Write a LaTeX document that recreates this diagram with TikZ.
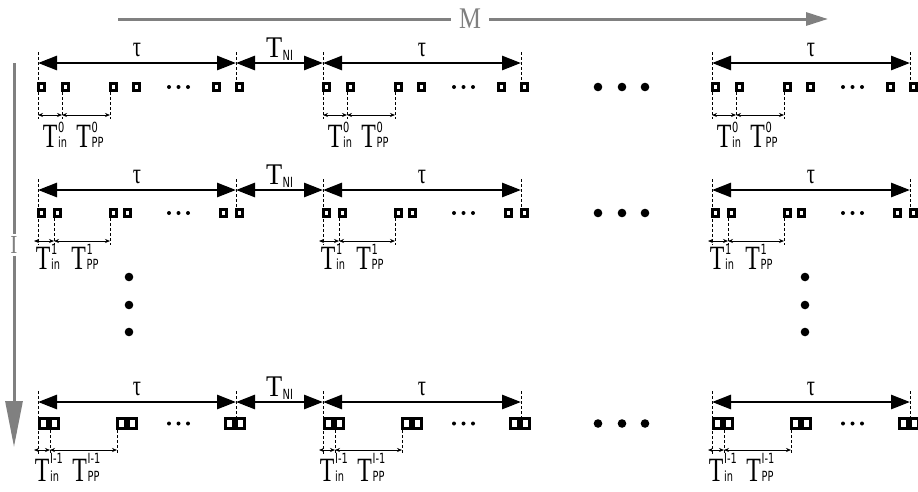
\documentclass[tikz,border=0pt]{standalone}
\usepackage{fontspec}
\setmainfont{Liberation Serif}
\setsansfont{DejaVu Sans}
\usepackage{graphicx}
\usepackage{xcolor}
\usepackage{tikz}
\usetikzlibrary{arrows.meta}
\definecolor{axisgray}{RGB}{128,128,128}
\tikzstyle{span} = [line width=2.8pt, {Triangle[length=19pt,width=14pt]}-{Triangle[length=19pt,width=14pt]}]
\tikzstyle{dimline} = [line width=0.7pt, {Stealth[length=5pt,width=4pt]}-{Stealth[length=5pt,width=4pt]}]
\tikzstyle{tick} = [line width=0.7pt, dash pattern=on 3pt off 2pt]
\tikzstyle{slot} = [rectangle, draw=black, fill=white, line width=2.7pt, inner sep=0pt, minimum width=5.8pt, minimum height=7.4pt, anchor=west]
\tikzstyle{bigslot} = [slot, line width=3.3pt, minimum width=7.7pt, minimum height=9.4pt]
\tikzstyle{axis} = [line width=3pt, draw=axisgray]
\tikzstyle{axislab} = [text=axisgray, inner sep=1pt]
\tikzstyle{tlab} = [inner sep=0pt, anchor=base, font=\fontsize{34}{34}\selectfont]
\tikzstyle{taulab} = [inner sep=0pt, anchor=base, font=\fontsize{29}{29}\selectfont]
\tikzstyle{nilab} = [inner sep=0pt, anchor=base, font=\fontsize{30}{30}\selectfont]
\newcommand{\tsym}[3][15pt]{\scalebox{0.7}[1]{T\kern1pt{\sffamily\fontsize{14}{14}\selectfont\rlap{\raisebox{#1}{#3}}#2}}}
\newcommand{\tni}{\scalebox{0.88}[1]{T\kern0.5pt\raisebox{-3pt}{\sffamily\fontsize{14}{14}\selectfont\scalebox{0.8}[1]{NI}}}}
\newcommand{\tauchar}{\scalebox{0.7}[1]{τ}}

\begin{document}
\begin{tikzpicture}[x=1pt,y=-1pt]
	\useasboundingbox (0,0) rectangle (918,491);
	
	% M and I axes
	\node[axislab, inner xsep=8pt, font=\fontsize{30}{30}\selectfont] (M) at (470,19) {\scalebox{0.82}[1]{M}};
	\coordinate (Mstart) at (118,19);
	\coordinate (Mend) at (828,19);
	\draw[axis] (Mstart) -- (M);
	\draw[axis, -{Triangle[length=22pt,width=13pt]}] (M) -- (Mend);
	
	\node[axislab, inner ysep=2pt, font=\fontsize{26}{26}\selectfont] (I) at (14,245) {\scalebox{0.82}[1]{I}};
	\coordinate (Itop) at (14,63);
	\coordinate (Ibot) at (14,447);
	\draw[axis] (Itop) -- (I);
	\draw[axis, -{Triangle[length=46pt,width=17pt]}] (I) -- (Ibot);
	
	% row 0
	\foreach \b/\bx in {0/38,1/323,2/712}{
		\coordinate (L0\b) at (\bx,63);
		\coordinate (R0\b) at ({\bx+198},63);
		\draw[tick] (\bx,52) -- (\bx,119);
		\draw[tick] ({\bx+198},52) -- ({\bx+198},82);
		\draw[tick] ({\bx+24},92) -- ({\bx+24},119);
		\draw[tick] ({\bx+72},92) -- ({\bx+72},119);
		\draw[span] (L0\b) -- (R0\b);
		\node[taulab] (tau0\b) at ({\bx+99},56) {\tauchar};
		\foreach \k/\ox in {1/0,2/24,3/72,4/95,5/175,6/198}
			\node[slot] (q0\b\k) at ({\bx+\ox-1},87) {};
		\foreach \ox in {131,140.5,150}
			\fill ({\bx+\ox},87) circle (2);
		\coordinate (a0\b) at (\bx,115);
		\coordinate (b0\b) at ({\bx+24},115);
		\coordinate (c0\b) at ({\bx+72},115);
		\draw[dimline] (a0\b) -- (b0\b);
		\draw[dimline] (b0\b) -- (c0\b);
		\node[tlab] (in0\b) at ({\bx+17},147) {\tsym{in}{0}};
		\node[tlab] (pp0\b) at ({\bx+52},147) {\tsym{PP}{0}};
	}
	\draw[span] (R00) -- (L01);
	\node[nilab] (ni0) at (279.5,57) {\tni};
	
	% row 1
	\foreach \b/\bx in {0/38,1/323,2/712}{
		\coordinate (L1\b) at (\bx,190);
		\coordinate (R1\b) at ({\bx+198},190);
		\draw[tick] (\bx,179) -- (\bx,245);
		\draw[tick] ({\bx+198},179) -- ({\bx+198},208);
		\draw[tick] ({\bx+16},218) -- ({\bx+16},245);
		\draw[tick] ({\bx+72},218) -- ({\bx+72},245);
		\draw[span] (L1\b) -- (R1\b);
		\node[taulab] (tau1\b) at ({\bx+99},183) {\tauchar};
		\foreach \k/\ox in {1/0,2/16,3/72,4/86,5/182,6/198}
			\node[slot] (q1\b\k) at ({\bx+\ox-1},213) {};
		\foreach \ox in {131,140.5,150}
			\fill ({\bx+\ox},213) circle (2);
		\coordinate (a1\b) at ({\bx-4},241);
		\coordinate (b1\b) at ({\bx+16},241);
		\coordinate (c1\b) at ({\bx+72},241);
		\draw[dimline] (a1\b) -- (b1\b);
		\draw[dimline] (b1\b) -- (c1\b);
		\node[tlab] (in1\b) at ({\bx+10},269) {\tsym{in}{1}};
		\node[tlab] (pp1\b) at ({\bx+47},269) {\tsym{PP}{1}};
	}
	\draw[span] (R10) -- (L11);
	\node[nilab] (ni1) at (279.5,184) {\tni};
	
	% row I-1
	\foreach \b/\bx in {0/38,1/323,2/712}{
		\coordinate (L2\b) at (\bx,402);
		\coordinate (R2\b) at ({\bx+198},402);
		\draw[tick] (\bx,391) -- (\bx,454);
		\draw[tick] ({\bx+198},391) -- ({\bx+198},418);
		\draw[tick] ({\bx+12},430) -- ({\bx+12},454);
		\draw[tick] ({\bx+79},430) -- ({\bx+79},454);
		\draw[span] (L2\b) -- (R2\b);
		\node[taulab] (tau2\b) at ({\bx+99},395) {\tauchar};
		\foreach \k/\ox in {1/0,2/11,3/78,4/89,5/186,6/197}
			\node[bigslot] (q2\b\k) at ({\bx+\ox},423.5) {};
		\foreach \ox in {131,140.5,150}
			\fill ({\bx+\ox},423.5) circle (2);
		\coordinate (a2\b) at ({\bx-4},450);
		\coordinate (b2\b) at ({\bx+12},450);
		\coordinate (c2\b) at ({\bx+79},450);
		\draw[dimline] (a2\b) -- (b2\b);
		\draw[dimline] (b2\b) -- (c2\b);
		\node[tlab] (in2\b) at ({\bx+9},481) {\tsym[18pt]{in}{I-1}};
		\node[tlab] (pp2\b) at ({\bx+48},481) {\tsym[18pt]{PP}{I-1}};
	}
	\draw[span] (R20) -- (L21);
	\node[nilab] (ni2) at (279.5,396) {\tni};
	
	% dots between blocks and rows
	\foreach \y in {87,213,423.5}
		\foreach \x in {598,622,645}
			\fill (\x,\y) circle (4.3);
	\foreach \x in {129,805}
		\foreach \y in {277,305,332}
			\fill (\x,\y) circle (4.3);
	
\end{tikzpicture}
\end{document}
